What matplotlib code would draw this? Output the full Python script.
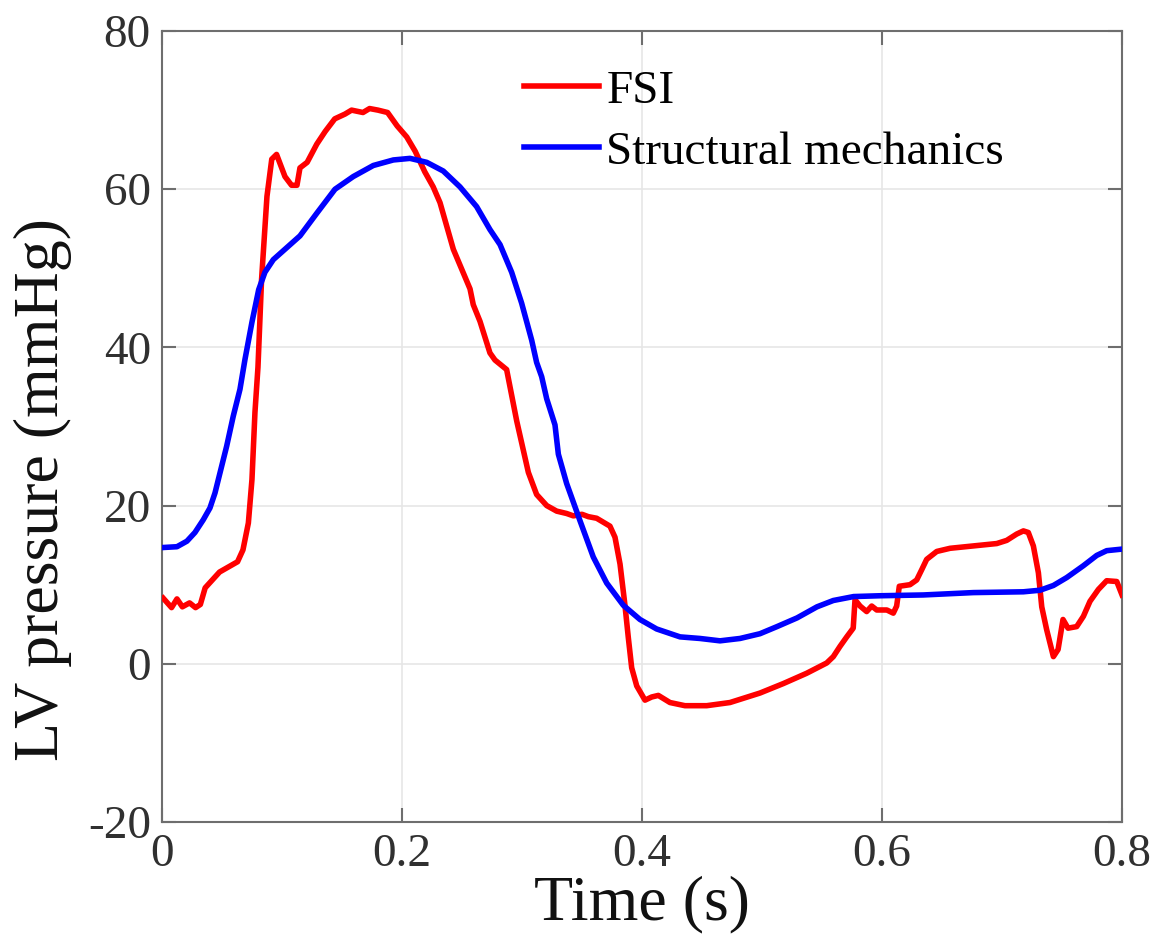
import matplotlib
matplotlib.use("Agg")
import matplotlib.pyplot as plt

# Left-ventricular pressure over one cardiac cycle
fsi_time = [0.001, 0.008, 0.0125, 0.017, 0.023, 0.028, 0.032, 0.036, 0.048, 0.063,
            0.0675, 0.072, 0.075, 0.0775, 0.080, 0.083, 0.0875, 0.0915, 0.0955, 0.1025,
            0.108, 0.1125, 0.115, 0.121, 0.129, 0.136, 0.144, 0.1525, 0.158, 0.1675,
            0.173, 0.180, 0.188, 0.196, 0.204, 0.211, 0.219, 0.226, 0.2317, 0.2428,
            0.2567, 0.2594, 0.265, 0.2733, 0.2775, 0.2872, 0.2956, 0.3053, 0.3122, 0.3206,
            0.3289, 0.3372, 0.3428, 0.350, 0.3553, 0.3622, 0.3733, 0.3775, 0.3817, 0.3858,
            0.3886, 0.3914, 0.3956, 0.4025, 0.4081, 0.4136, 0.4233, 0.4358, 0.4539, 0.4733,
            0.4983, 0.5178, 0.5372, 0.5539, 0.5594, 0.565, 0.5706, 0.576, 0.5775, 0.5817,
            0.5872, 0.5914, 0.5956, 0.604, 0.6094, 0.6122, 0.6144, 0.6233, 0.6289, 0.6331,
            0.6372, 0.6456, 0.6567, 0.6761, 0.6956, 0.7039, 0.7122, 0.7178, 0.7219, 0.7261,
            0.7303, 0.7331, 0.7372, 0.7428, 0.7467, 0.7508, 0.755, 0.7622, 0.7678, 0.7733,
            0.7803, 0.7872, 0.7956, 0.800]
fsi_pressure = [8.3, 7.1, 8.2, 7.2, 7.7, 7.1, 7.5, 9.6, 11.6, 12.9,
                14.4, 17.8, 23.3, 31.8, 37.5, 48.6, 59.1, 63.8, 64.4, 61.6,
                60.5, 60.5, 62.7, 63.4, 65.7, 67.3, 68.9, 69.5, 70.0, 69.7,
                70.2, 70.0, 69.7, 68.0, 66.6, 64.8, 62.2, 60.3, 58.3, 52.4,
                47.4, 45.4, 43.3, 39.3, 38.4, 37.2, 30.7, 24.2, 21.4, 20.0,
                19.3, 19.0, 18.7, 18.9, 18.6, 18.4, 17.4, 16.0, 12.6, 7.4,
                3.3, -0.5, -2.8, -4.6, -4.2, -4.0, -4.9, -5.3, -5.3, -4.9,
                -3.7, -2.5, -1.2, 0.1, 0.9, 2.2, 3.4, 4.5, 8.1, 7.3,
                6.6, 7.3, 6.8, 6.8, 6.4, 7.3, 9.8, 10.0, 10.6, 11.9,
                13.2, 14.2, 14.6, 14.9, 15.2, 15.6, 16.4, 16.8, 16.6, 14.9,
                11.5, 7.2, 4.3, 0.9, 1.8, 5.6, 4.5, 4.7, 6.0, 7.9,
                9.4, 10.5, 10.4, 8.7]

sm_time = [0.001, 0.0125, 0.0208, 0.0275, 0.0344, 0.040, 0.0442, 0.0483, 0.0539, 0.0594,
           0.0650, 0.0692, 0.075, 0.0806, 0.0858, 0.0928, 0.1039, 0.115, 0.1292, 0.1442,
           0.1594, 0.1761, 0.1928, 0.2067, 0.2206, 0.2344, 0.2483, 0.2622, 0.2733, 0.2817,
           0.2914, 0.2997, 0.3081, 0.3122, 0.3164, 0.3206, 0.3275, 0.3303, 0.3372, 0.3483,
           0.3594, 0.3706, 0.3844, 0.3983, 0.4122, 0.4317, 0.4483, 0.465, 0.4817, 0.4983,
           0.5125, 0.5292, 0.5458, 0.5594, 0.5764, 0.5983, 0.6344, 0.6761, 0.7178, 0.7317,
           0.7428, 0.7539, 0.7678, 0.7789, 0.7872, 0.800]
sm_pressure = [14.7, 14.8, 15.5, 16.6, 18.2, 19.7, 21.6, 24.1, 27.5, 31.3,
               34.7, 38.5, 43.2, 47.3, 49.5, 51.1, 52.6, 54.1, 57.0, 60.0,
               61.6, 63.0, 63.7, 63.9, 63.4, 62.3, 60.3, 57.8, 54.9, 53.0,
               49.5, 45.6, 40.9, 38.1, 36.3, 33.5, 30.2, 26.5, 22.8, 18.1,
               13.5, 10.2, 7.4, 5.6, 4.4, 3.4, 3.2, 2.9, 3.2, 3.8,
               4.7, 5.8, 7.2, 8.0, 8.5, 8.6, 8.7, 9.0, 9.1, 9.3,
               9.9, 10.9, 12.4, 13.7, 14.3, 14.5]

x_ticks = [0, 0.2, 0.4, 0.6, 0.8]
x_tick_labels = ["0", "0.2", "0.4", "0.6", "0.8"]
y_ticks = [-20, 0, 20, 40, 60, 80]
y_tick_labels = ["-20", "0", "20", "40", "60", "80"]

plt.rcParams["font.family"] = ["Liberation Serif", "DejaVu Serif"]

fig = plt.figure(figsize=(11.66, 9.52), dpi=100)
ax = fig.add_axes([0.1389, 0.1366, 0.8234, 0.8308])

ax.plot(fsi_time, fsi_pressure, color="#ff0000", lw=4.0, label="FSI",
        solid_joinstyle="round", zorder=3)
ax.plot(sm_time, sm_pressure, color="#0000ff", lw=4.0, label="Structural mechanics",
        solid_joinstyle="round", zorder=3)

ax.set_xlim(0, 0.8)
ax.set_ylim(-20, 80)
ax.set_xticks(x_ticks)
ax.set_xticklabels(x_tick_labels)
ax.set_yticks(y_ticks)
ax.set_yticklabels(y_tick_labels)

ax.grid(True, color="#e6e6e6", lw=1.2, zorder=0)
ax.set_axisbelow(True)

axis_gray = "#6e6e6e"
for s in ax.spines.values():
    s.set_color(axis_gray)
    s.set_linewidth(1.5)
ax.tick_params(direction="in", length=10, width=1.5, color=axis_gray,
               top=True, right=True, labelsize=34, labelcolor="#303030", pad=8)

ax.set_xlabel("Time (s)", fontsize=46, color="#111111", labelpad=0)
ax.set_ylabel("LV pressure (mmHg)", fontsize=46, color="#111111")
ax.yaxis.set_label_coords(-0.094, 0.42)

leg = ax.legend(loc="upper left", bbox_to_anchor=(0.357, 0.975), frameon=False,
                fontsize=34, handlelength=1.6, handletextpad=0.15,
                labelspacing=0.38, borderaxespad=0)

fig.savefig("out.png", dpi=100)
